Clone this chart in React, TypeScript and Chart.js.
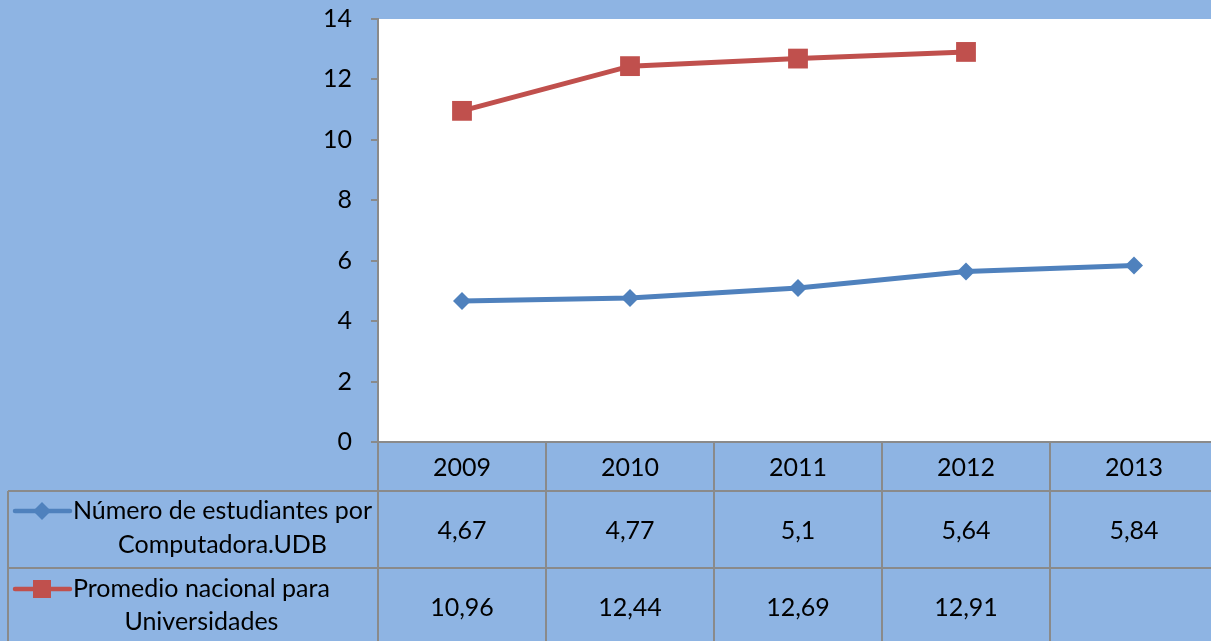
import React, { useEffect, useRef } from "react";
import { Chart, registerables } from "chart.js";

Chart.register(...registerables);

const years = ["2009", "2010", "2011", "2012", "2013"];
const udbValues: (number | null)[] = [4.67, 4.77, 5.1, 5.64, 5.84];
const nationalValues: (number | null)[] = [10.96, 12.44, 12.69, 12.91, null];
const udbName = ["Número de estudiantes por", "Computadora.UDB"];
const nationalName = ["Promedio nacional para", "Universidades"];
const yMin = 0;
const yMax = 14;
const yStep = 2;

const BG = "#8EB4E3";
const GRID = "#8A8A8A";
const BLUE = "#4F81BD";
const RED = "#C0504D";
const FONT = "Lato";
const FS = 25;

const fmt = (v: number | null) => (v == null ? "" : String(v).replace(".", ","));

function drawMarker(ctx: CanvasRenderingContext2D, style: string, x: number, y: number, color: string) {
  ctx.save();
  ctx.fillStyle = color;
  ctx.beginPath();
  if (style === "rect") {
    const s = 9;
    ctx.rect(x - s, y - s, 2 * s, 2 * s);
  } else {
    const r = 9;
    ctx.moveTo(x, y - r);
    ctx.lineTo(x + r, y);
    ctx.lineTo(x, y + r);
    ctx.lineTo(x - r, y);
    ctx.closePath();
  }
  ctx.fill();
  ctx.restore();
}

const tablePlugin = {
  id: "tablePlugin",
  beforeDraw(chart: any) {
    const { ctx, chartArea, width, height } = chart;
    ctx.save();
    ctx.fillStyle = BG;
    ctx.fillRect(0, 0, width, height);
    ctx.fillStyle = "#FFFFFF";
    ctx.fillRect(chartArea.left, chartArea.top, chartArea.right - chartArea.left, chartArea.bottom - chartArea.top);
    ctx.restore();
  },
  afterDraw(chart: any) {
    const { ctx, chartArea, height } = chart;
    const xs = chart.scales.x;
    const n = years.length;
    const cw = (chartArea.right - chartArea.left) / n;
    const top = chartArea.bottom;
    const r1 = top + 49;
    const r2 = r1 + 77;
    const bottom = height + 4;
    const tableLeft = 8;
    ctx.save();
    ctx.strokeStyle = GRID;
    ctx.lineWidth = 2;
    ctx.beginPath();
    ctx.moveTo(chartArea.left, top);
    ctx.lineTo(chartArea.right, top);
    ctx.moveTo(tableLeft, r1);
    ctx.lineTo(chartArea.right, r1);
    ctx.moveTo(tableLeft, r2);
    ctx.lineTo(chartArea.right, r2);
    ctx.moveTo(tableLeft, r1);
    ctx.lineTo(tableLeft, bottom);
    for (let i = 0; i <= n; i++) {
      const x = chartArea.left + i * cw;
      ctx.moveTo(x, top);
      ctx.lineTo(x, bottom);
    }
    ctx.stroke();

    ctx.fillStyle = "#000000";
    ctx.font = `${FS}px ${FONT}`;
    ctx.textAlign = "center";
    ctx.textBaseline = "middle";
    for (let i = 0; i < n; i++) {
      const x = xs.getPixelForValue(i);
      ctx.fillText(years[i], x, (top + r1) / 2 + 1);
      ctx.fillText(fmt(udbValues[i]), x, (r1 + r2) / 2 + 1);
      ctx.fillText(fmt(nationalValues[i]), x, r2 + 40);
    }

    const rows = [
      { name: udbName, color: BLUE, style: "rectRot", y1: r1 + 20, y2: r1 + 54 },
      { name: nationalName, color: RED, style: "rect", y1: r2 + 21, y2: r2 + 54 },
    ];
    const textLeft = 73;
    for (const row of rows) {
      ctx.strokeStyle = row.color;
      ctx.lineWidth = 4.5;
      ctx.lineCap = "round";
      ctx.beginPath();
      ctx.moveTo(15, row.y1);
      ctx.lineTo(70, row.y1);
      ctx.stroke();
      drawMarker(ctx, row.style, 42, row.y1, row.color);
      ctx.fillStyle = "#000000";
      ctx.textAlign = "left";
      ctx.fillText(row.name[0], textLeft, row.y1);
      const w = ctx.measureText(row.name[0]).width;
      ctx.textAlign = "center";
      ctx.fillText(row.name[1], textLeft + w / 2, row.y2);
    }
    ctx.restore();
  },
};

export default function App() {
  const ref = useRef<HTMLCanvasElement | null>(null);
  useEffect(() => {
    document.body.style.margin = "0";
    const canvas = ref.current!;
    const chart = new Chart(canvas, {
      type: "line",
      data: {
        labels: years,
        datasets: [
          {
            label: udbName.join(" "),
            data: udbValues,
            borderColor: BLUE,
            backgroundColor: BLUE,
            borderWidth: 5,
            pointStyle: "rectRot",
            pointRadius: 9,
            pointHoverRadius: 9,
            pointBorderWidth: 0,
            tension: 0,
          },
          {
            label: nationalName.join(" "),
            data: nationalValues,
            borderColor: RED,
            backgroundColor: RED,
            borderWidth: 5,
            pointStyle: "rect",
            pointRadius: 14,
            pointHoverRadius: 14,
            pointBorderWidth: 0,
            tension: 0,
          },
        ],
      },
      options: {
        responsive: false,
        animation: false,
        devicePixelRatio: 1,
        layout: { padding: { top: 19, right: 14, bottom: 199, left: 0 } },
        plugins: { legend: { display: false }, tooltip: { enabled: false } },
        scales: {
          x: { type: "category", display: false, offset: true },
          y: {
            min: yMin,
            max: yMax,
            afterFit: (s: any) => {
              s.width = 378;
              s.paddingTop = 0;
              s.paddingBottom = 0;
            },
            ticks: {
              stepSize: yStep,
              color: "#000000",
              font: { family: FONT, size: FS },
              padding: 19,
            },
            grid: { drawOnChartArea: false, color: GRID, tickLength: 7, lineWidth: 2 },
            border: { color: GRID, width: 2 },
          },
        },
      },
      plugins: [tablePlugin],
    });
    return () => chart.destroy();
  }, []);
  return (
    <div style={{ position: "fixed", left: 0, top: 0, width: 1211, height: 641, overflow: "hidden" }}>
      <canvas ref={ref} width={1232} height={641} style={{ width: 1232, height: 641, display: "block" }} />
    </div>
  );
}
